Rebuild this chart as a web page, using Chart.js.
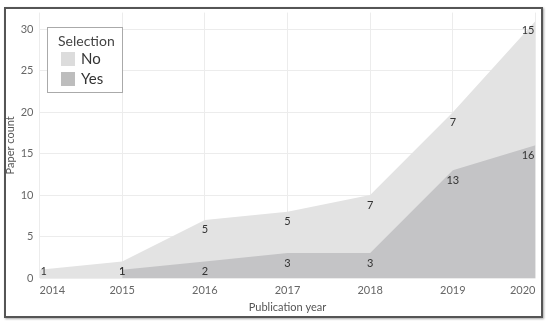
<!DOCTYPE html>
<html>
<head>
<meta charset="utf-8">
<script src="https://cdn.jsdelivr.net/npm/chart.js@4.4.1/dist/chart.umd.min.js"></script>
<style>
    html, body { margin: 0; padding: 0; background: #fff; }
    .wrap { position: relative; width: 550px; height: 326px; }
    .frame {
        position: absolute; left: 4px; top: 7px; width: 535px; height: 307px;
        border: 2px solid #555; box-shadow: 1px 1px 2px rgba(0, 0, 0, 0.35);
    }
    canvas { position: absolute; left: 0; top: 0; }
</style>
</head>
<body>
<div class="wrap">
    <div class="frame"></div>
    <canvas id="areaChart" width="550" height="326"></canvas>
</div>
<script>
const years = ['2014', '2015', '2016', '2017', '2018', '2019', '2020'];
const yesCounts = [null, 1, 2, 3, 3, 13, 16];
const noCounts = [1, 1, 5, 5, 7, 7, 15];
const yTicks = [0, 5, 10, 15, 20, 25, 30];

const FONT = 'Lato';

// numbers printed just under each stacked point, kept inside the plot
const valueLabels = {
    id: 'valueLabels',
    afterDatasetsDraw(chart) {
        const ctx = chart.ctx;
        const area = chart.chartArea;
        ctx.save();
        ctx.font = '11px ' + FONT;
        ctx.fillStyle = '#333';
        ctx.textAlign = 'center';
        ctx.textBaseline = 'middle';
        chart.data.datasets.forEach((ds, i) => {
            const meta = chart.getDatasetMeta(i);
            meta.data.forEach((pt, j) => {
                const v = ds.data[j];
                if (v == null) return;
                const txt = String(v);
                const w = ctx.measureText(txt).width;
                const x = Math.min(Math.max(pt.x, area.left + w / 2 + 1), area.right - w / 2 - 1);
                const y = Math.min(pt.y + 10, area.bottom - 7);
                ctx.fillText(txt, x, y);
            });
        });
        ctx.restore();
    }
};

// boxed legend in the top-left corner of the plot
const boxLegend = {
    id: 'boxLegend',
    afterDraw(chart) {
        const ctx = chart.ctx;
        const items = [chart.data.datasets[1], chart.data.datasets[0]];
        const swatch = ['#dcdcdc', '#bdbdbd'];
        ctx.save();
        ctx.fillStyle = '#fff';
        ctx.fillRect(47.5, 27.5, 75, 65);
        ctx.strokeStyle = '#aaa';
        ctx.lineWidth = 1;
        ctx.strokeRect(47.5, 27.5, 75, 65);
        ctx.fillStyle = '#444';
        ctx.textAlign = 'left';
        ctx.textBaseline = 'middle';
        ctx.font = '14px ' + FONT;
        ctx.fillText('Selection', 58, 41);
        items.forEach((ds, k) => {
            const top = 52 + k * 20;
            ctx.fillStyle = swatch[k];
            ctx.fillRect(61, top, 14, 14);
            ctx.fillStyle = '#333';
            ctx.font = '15px ' + FONT;
            ctx.fillText(ds.label, 81, top + 7);
        });
        ctx.restore();
    }
};

new Chart(document.getElementById('areaChart'), {
    type: 'line',
    data: {
        labels: years,
        datasets: [
            {
                label: 'Yes',
                data: yesCounts,
                backgroundColor: '#c4c4c6',
                borderWidth: 0,
                pointRadius: 0,
                fill: 'origin',
                tension: 0
            },
            {
                label: 'No',
                data: noCounts,
                backgroundColor: '#e3e3e3',
                borderWidth: 0,
                pointRadius: 0,
                fill: 'origin',
                tension: 0
            }
        ]
    },
    options: {
        responsive: false,
        animation: false,
        devicePixelRatio: 1,
        layout: { padding: { left: 4, right: 14.5, top: 12, bottom: 12 } },
        plugins: {
            legend: { display: false },
            tooltip: { enabled: false }
        },
        scales: {
            x: {
                offset: false,
                grid: { color: '#ececec', drawTicks: false },
                border: { display: false },
                ticks: {
                    align: 'inner',
                    padding: 6,
                    maxRotation: 0,
                    color: '#666',
                    font: { family: FONT, size: 11 }
                },
                title: {
                    display: true,
                    text: 'Publication year',
                    color: '#555',
                    font: { family: FONT, size: 11 },
                    padding: 0
                },
                afterFit: (s) => { s.height = 36; }
            },
            y: {
                stacked: true,
                min: 0,
                max: 32,
                grid: { color: '#ececec', drawTicks: false },
                border: { display: false },
                ticks: {
                    stepSize: 5,
                    padding: 6,
                    color: '#666',
                    font: { family: FONT, size: 11 }
                },
                afterBuildTicks: (s) => { s.ticks = yTicks.map(v => ({ value: v })); },
                title: {
                    display: true,
                    text: 'Paper count',
                    color: '#555',
                    font: { family: FONT, size: 11 },
                    padding: 0
                },
                afterFit: (s) => { s.width = 35.5; }
            }
        }
    },
    plugins: [valueLabels, boxLegend]
});
</script>
</body>
</html>
